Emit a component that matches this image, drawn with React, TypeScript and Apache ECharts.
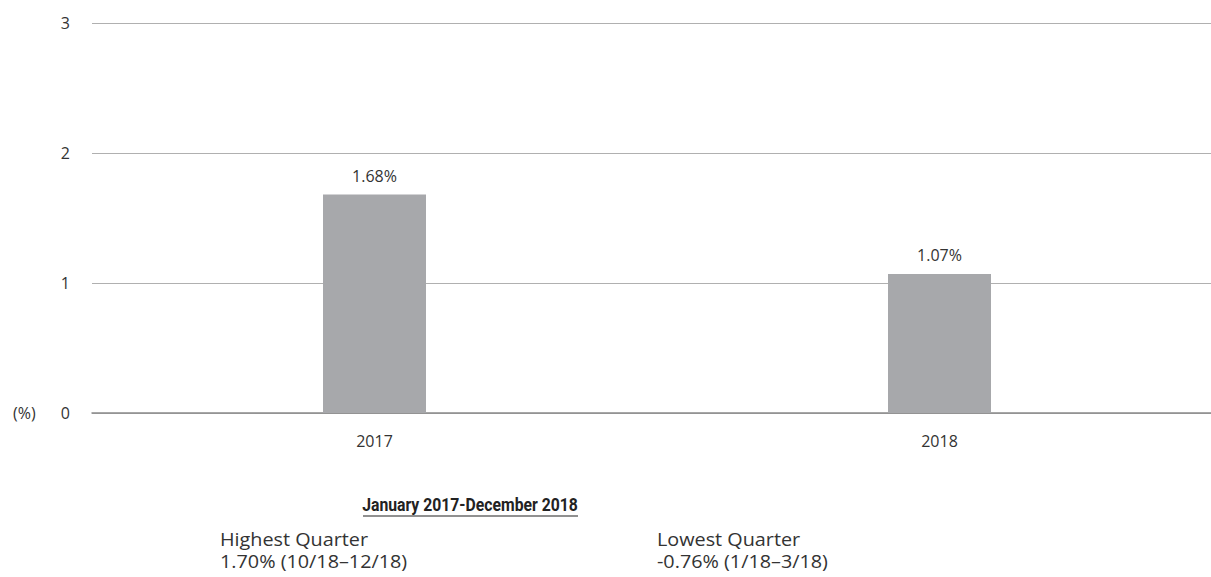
import React, { useEffect, useRef } from "react";
import * as echarts from "echarts";

const categories = ["2017", "2018"];
const values = [1.68, 1.07];
const yTicks = [0, 1, 2, 3];
const periodTitle = "January 2017-December 2018";
const highestLabel = "Highest Quarter";
const highestValue = "1.70% (10/18–12/18)";
const lowestLabel = "Lowest Quarter";
const lowestValue = "-0.76% (1/18–3/18)";

const FONT = "'Open Sans', 'Noto Sans', sans-serif";

export default function App() {
  const ref = useRef<HTMLDivElement>(null);
  useEffect(() => {
    if (!ref.current) return;
    const chart = echarts.init(ref.current, null, { renderer: "svg" });
    const note = (x: number, y: number, text: string) => ({
      type: "text",
      x,
      y,
      scaleX: 1.1,
      style: { text, fill: "#333", font: `18px ${FONT}`, verticalAlign: "middle" },
    });
    chart.setOption({
      animation: false,
      backgroundColor: "#ffffff",
      grid: {
        left: 92,
        top: 23,
        right: -11,
        bottom: 164,
        containLabel: false,
        outerBoundsMode: "none",
      },
      xAxis: {
        type: "category",
        data: categories,
        axisLine: { show: true, lineStyle: { color: "#8a8a8a", width: 1.5 } },
        axisTick: { show: false },
        axisLabel: { color: "#333", fontSize: 16, fontFamily: FONT, margin: 20 },
      },
      yAxis: {
        type: "value",
        min: yTicks[0],
        max: yTicks[yTicks.length - 1],
        interval: 1,
        axisLine: { show: false },
        axisTick: { show: false },
        axisLabel: { color: "#333", fontSize: 16, fontFamily: FONT, margin: 22 },
        splitLine: { lineStyle: { color: "#b0b0b0", width: 1 } },
      },
      series: [
        {
          type: "bar",
          data: values,
          barWidth: 103,
          itemStyle: { color: "#a7a8ab" },
          label: {
            show: true,
            position: "top",
            distance: 11,
            formatter: (p: any) => p.value.toFixed(2) + "%",
            color: "#333",
            fontSize: 16,
            fontFamily: FONT,
          },
        },
      ],
      graphic: [
        {
          type: "text",
          x: 13,
          y: 413,
          style: { text: "(%)", fill: "#333", font: `16px ${FONT}`, verticalAlign: "middle" },
        },
        {
          type: "text",
          x: 470,
          y: 504,
          scaleX: 0.83,
          style: {
            text: periodTitle,
            fill: "#222",
            font: `bold 19px Roboto, sans-serif`,
            align: "center",
            verticalAlign: "middle",
          },
        },
        {
          type: "line",
          shape: { x1: 363, y1: 516, x2: 578, y2: 516 },
          style: { stroke: "#222", lineWidth: 1.2 },
        },
        note(220, 539, highestLabel),
        note(220, 561, highestValue),
        note(657, 539, lowestLabel),
        note(657, 561, lowestValue),
      ],
    });
    return () => chart.dispose();
  }, []);
  return (
    <div
      ref={ref}
      style={{ position: "absolute", left: 0, top: 0, width: 1211, height: 577 }}
    />
  );
}
